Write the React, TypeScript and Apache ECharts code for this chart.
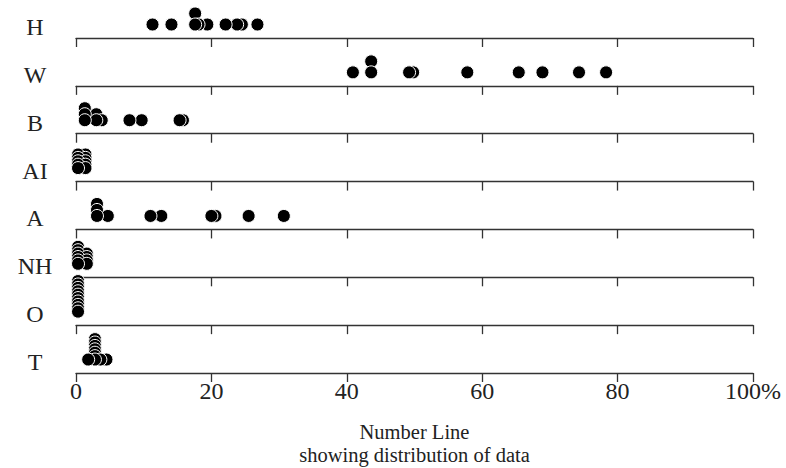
import React, { useEffect, useRef } from "react";
import * as echarts from "echarts";

const categories = ["H", "W", "B", "AI", "A", "NH", "O", "T"];
const hValues = [11.3, 14.1, 17.6, 17.6, 18.1, 19.4, 22.1, 23.8, 24.5, 26.8];
const wValues = [40.9, 43.6, 43.6, 49.2, 49.8, 57.8, 65.4, 68.9, 74.3, 78.3];
const bValues = [1.3, 1.3, 1.3, 3.0, 3.0, 3.8, 7.9, 9.7, 15.3, 15.8];
const aiValues = [0.3, 0.3, 0.3, 0.3, 0.3, 1.4, 1.4, 1.4, 1.4, 1.4];
const aValues = [3.1, 3.1, 3.1, 4.7, 11.0, 12.6, 20.0, 20.6, 25.5, 30.7];
const nhValues = [0.3, 0.3, 0.3, 0.3, 0.3, 0.3, 1.6, 1.6, 1.6, 1.6];
const oValues = [0.3, 0.3, 0.3, 0.3, 0.3, 0.3, 0.3, 0.3, 0.3, 0.3];
const tValues = [1.8, 2.8, 2.8, 2.8, 2.8, 2.8, 2.8, 2.8, 3.6, 4.5];
const rowValues = [hValues, wValues, bValues, aiValues, aValues, nhValues, oValues, tValues];
const xTickLabels = ["0", "20", "40", "60", "80", "100%"];
const titleText = "Number Line";
const subtitleText = "showing distribution of data";

const FONT = "'Liberation Serif', 'DejaVu Serif', serif";
const INK = "#222";

function stackRow(values: number[], cat: string) {
  const counts = new Map<number, number>();
  const pts = values.map((v) => {
    const lvl = counts.get(v) ?? 0;
    counts.set(v, lvl + 1);
    return { v, lvl };
  });
  const maxN = Math.max(...Array.from(counts.values()));
  const step = maxN > 1 ? Math.min(11, Math.max(3.4, 12 / (maxN - 1))) : 0;
  pts.sort((a, b) => b.lvl - a.lvl || b.v - a.v);
  return pts.map((p) => ({
    value: [p.v, cat],
    symbolOffset: [0, -(2.5 + p.lvl * step)],
  }));
}

export default function App() {
  const ref = useRef<HTMLDivElement>(null);
  useEffect(() => {
    const chart = echarts.init(ref.current!, null, { renderer: "svg" });
    const left = 76;
    const axisWidth = 677;
    const firstLine = 38;
    const spacing = 47.86;
    const gridH = 22;
    const last = categories.length - 1;
    const grid: any[] = [];
    const xAxis: any[] = [];
    const yAxis: any[] = [];
    const series: any[] = [];
    categories.forEach((cat, i) => {
      const lineY = firstLine + i * spacing;
      grid.push({ left, width: axisWidth, top: lineY - gridH, height: gridH });
      xAxis.push({
        gridIndex: i,
        type: "value",
        min: 0,
        max: 100,
        interval: 20,
        axisLine: { show: true, onZero: false, lineStyle: { color: "#333", width: 1.3 } },
        axisTick: { show: true, length: 9, lineStyle: { color: "#333", width: 1.3 } },
        axisLabel: {
          show: i === last,
          margin: 6,
          fontSize: 24,
          fontFamily: FONT,
          color: INK,
          showMinLabel: true,
          showMaxLabel: true,
          formatter: (v: number) => xTickLabels[Math.round(v / 20)] ?? String(v),
        },
        splitLine: { show: false },
      });
      yAxis.push({
        gridIndex: i,
        type: "category",
        data: [cat],
        axisLine: { show: false },
        axisTick: { show: false },
        splitLine: { show: false },
        axisLabel: { align: "center", margin: 41, fontSize: 24, fontFamily: FONT, color: INK },
      });
      series.push({
        type: "scatter",
        name: cat,
        xAxisIndex: i,
        yAxisIndex: i,
        clip: false,
        symbol: "circle",
        symbolSize: 13,
        itemStyle: { color: "#000", borderColor: "#fff", borderWidth: 1, opacity: 1 },
        data: stackRow(rowValues[i], cat),
      });
    });
    chart.setOption({
      animation: false,
      backgroundColor: "#fff",
      title: [
        {
          text: titleText,
          left: left + axisWidth / 2,
          textAlign: "center",
          top: 421,
          padding: 0,
          textStyle: { fontSize: 20.5, fontWeight: "normal", fontFamily: FONT, color: INK },
        },
        {
          text: subtitleText,
          left: left + axisWidth / 2,
          textAlign: "center",
          top: 444,
          padding: 0,
          textStyle: { fontSize: 20.5, fontWeight: "normal", fontFamily: FONT, color: INK },
        },
      ],
      grid,
      xAxis,
      yAxis,
      series,
    });
    return () => chart.dispose();
  }, []);
  return (
    <div
      ref={ref}
      style={{ position: "fixed", left: 0, top: 0, width: 786, height: 468 }}
    />
  );
}
